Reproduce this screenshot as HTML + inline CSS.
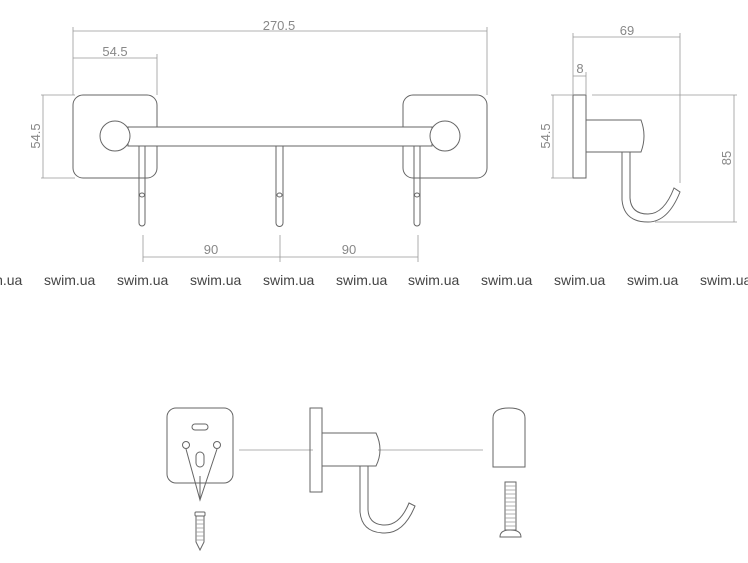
<!DOCTYPE html>
<html><head><meta charset="utf-8"><style>
html,body{margin:0;padding:0;background:#fff;width:748px;height:563px;overflow:hidden}
svg{display:block}
.l{fill:none;stroke:#666;stroke-width:1}
.d{fill:none;stroke:#999;stroke-width:0.8}
.t{font-family:"Liberation Sans",sans-serif;font-size:13px;fill:#888}
.w{font-family:"Liberation Sans",sans-serif;font-size:14px;fill:#444}
</style></head><body>
<svg width="748" height="563" viewBox="0 0 748 563" xmlns="http://www.w3.org/2000/svg">
<!-- front view -->
<rect class="l" x="73" y="95" width="84" height="83" rx="10"/>
<rect class="l" x="403" y="95" width="84" height="83" rx="10"/>
<rect x="128" y="127" width="304" height="19" fill="#fff" stroke="#666"/>
<circle cx="115" cy="136" r="15" fill="#fff" stroke="#666"/>
<circle cx="445" cy="136" r="15" fill="#fff" stroke="#666"/>
<path class="l" d="M139 146 V223 a3 3 0 0 0 6 0 V146"/>
<path class="l" d="M276 146 V223 a3 3 0 0 0 7 0 V146"/>
<path class="l" d="M414 146 V223 a3 3 0 0 0 6 0 V146"/>
<ellipse class="l" cx="142" cy="195" rx="2.5" ry="2"/>
<ellipse class="l" cx="279.5" cy="195" rx="2.5" ry="2"/>
<ellipse class="l" cx="417" cy="195" rx="2.5" ry="2"/>
<!-- dims front -->
<path class="d" d="M73 31 H487 M73 27 V95 M487 27 V95 M73 58 H157 M157 54 V95 M41 95 H75 M41 178 H75 M43 95 V178 M143 235 V262 M280 235 V262 M418 235 V262 M143 257 H418"/>
<text class="t" x="279" y="30" text-anchor="middle">270.5</text>
<text class="t" x="115" y="56" text-anchor="middle">54.5</text>
<text class="t" transform="translate(40,136) rotate(-90)" text-anchor="middle">54.5</text>
<text class="t" x="211" y="254" text-anchor="middle">90</text>
<text class="t" x="349" y="254" text-anchor="middle">90</text>
<!-- side view -->
<rect class="l" x="573" y="95" width="13" height="83"/>
<path class="l" d="M586 120 H641 Q647 136 641 152 H586"/>
<path class="l" d="M622 152 V200 Q624 222 648 222 Q668 222 680 192 L674 188 Q664 214 648 214 Q631 214 630 198 V152"/>
<path class="d" d="M573 37 H680 M573 33 V95 M680 33 V183 M573 76 H586 M586 72 V95 M551 95 H573 M551 178 H573 M553 95 V178 M592 95 H737 M655 222 H737 M734 95 V222"/>
<text class="t" x="627" y="35" text-anchor="middle">69</text>
<text class="t" x="580" y="73" text-anchor="middle">8</text>
<text class="t" transform="translate(550,136) rotate(-90)" text-anchor="middle">54.5</text>
<text class="t" transform="translate(731,158) rotate(-90)" text-anchor="middle">85</text>
<!-- watermark -->
<g class="w">
<text x="-29" y="285">swim.ua</text><text x="44" y="285">swim.ua</text><text x="117" y="285">swim.ua</text><text x="190" y="285">swim.ua</text><text x="263" y="285">swim.ua</text><text x="336" y="285">swim.ua</text><text x="408" y="285">swim.ua</text><text x="481" y="285">swim.ua</text><text x="554" y="285">swim.ua</text><text x="627" y="285">swim.ua</text><text x="700" y="285">swim.ua</text>
</g>
<!-- exploded -->
<rect class="l" x="167" y="408" width="66" height="75" rx="9"/>
<rect class="l" x="192" y="424" width="16" height="6" rx="3"/>
<circle class="l" cx="186" cy="445" r="3.5"/>
<circle class="l" cx="217" cy="445" r="3.5"/>
<rect class="l" x="196" y="452" width="8" height="15" rx="4"/>
<path class="l" d="M186 449 L200 500 L217 449 M200 500 V476"/>
<rect class="l" x="195" y="512" width="10" height="4" rx="1"/>
<path class="l" d="M196 516 V542 L200 550 L204 542 V516"/>
<path class="d" d="M196 520 H204 M196 524 H204 M196 528 H204 M196 532 H204 M196 536 H204 M196 540 H204"/>
<path class="d" d="M239 450 H313 M378 450 H483"/>
<rect class="l" x="310" y="408" width="12" height="84"/>
<path class="l" d="M322 433 H376 Q384 450 376 466 H322"/>
<path class="l" d="M360 466 V512 Q362 533 385 533 Q404 533 415 506 L409 503 Q400 525 385 525 Q369 525 368 510 V466"/>
<path class="l" d="M493 467 V418 Q493 408 509 408 Q525 408 525 418 V467 Z"/>
<rect class="l" x="505" y="482" width="11" height="48"/>
<path class="d" d="M505 486 H516 M505 490 H516 M505 494 H516 M505 498 H516 M505 502 H516 M505 506 H516 M505 510 H516 M505 514 H516 M505 518 H516 M505 522 H516 M505 526 H516"/>
<path class="l" d="M500 537 Q500 530 510 530 Q521 530 521 537 Z"/>
</svg>
</body></html>
